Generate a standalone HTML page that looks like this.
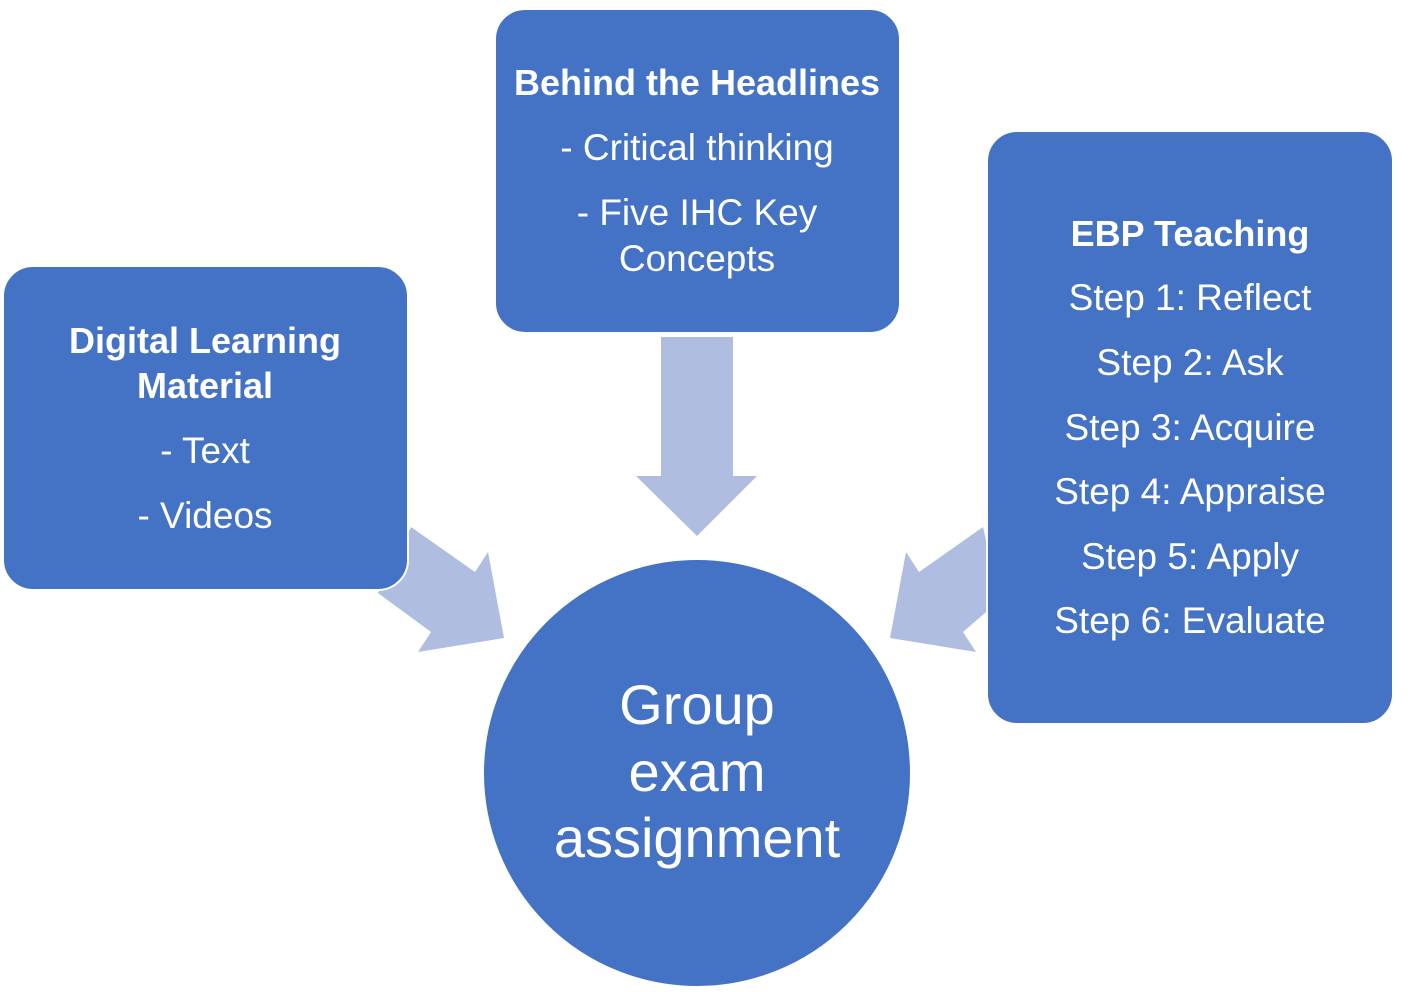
<!DOCTYPE html>
<html><head><meta charset="utf-8"><style>
html,body{margin:0;padding:0;background:#fff;}
svg{display:block;}
text{font-family:"Liberation Sans",sans-serif;fill:#fff;text-anchor:middle;}
.b{font-weight:bold;font-size:36px;}
.r{font-size:37px;}
.c{font-size:56px;}
</style></head><body>
<svg width="1417" height="992" viewBox="0 0 1417 992">
<g fill="#AFBDE0">
<polygon points="661,337 733,337 733,476 757,476 697,536 636,476 661,476"/>
<polygon points="411,527 475,572 488,552 504,638 418,652 431,632 378,593"/>
<polygon points="983,527 919,572 906,552 890,638 976,652 963,632 1000,600"/>
</g>
<g fill="#4472C4" stroke="#fff" stroke-width="2">
<rect x="3" y="266" width="405" height="324" rx="30"/>
<rect x="495" y="9" width="405" height="324" rx="30"/>
<rect x="987" y="131" width="406" height="593" rx="30"/>
<circle cx="697" cy="773" r="214"/>
</g>
<text class="b" x="205" y="353">Digital Learning</text>
<text class="b" x="205" y="398">Material</text>
<text class="r" x="205" y="463">- Text</text>
<text class="r" x="205" y="528">- Videos</text>
<text class="b" x="697" y="95">Behind the Headlines</text>
<text class="r" x="697" y="160">- Critical thinking</text>
<text class="r" x="697" y="225">- Five IHC Key</text>
<text class="r" x="697" y="271">Concepts</text>
<text class="b" x="1190" y="246">EBP Teaching</text>
<text class="r" x="1190" y="310">Step 1: Reflect</text>
<text class="r" x="1190" y="375">Step 2: Ask</text>
<text class="r" x="1190" y="440">Step 3: Acquire</text>
<text class="r" x="1190" y="504">Step 4: Appraise</text>
<text class="r" x="1190" y="569">Step 5: Apply</text>
<text class="r" x="1190" y="633">Step 6: Evaluate</text>
<text class="c" x="697" y="724">Group</text>
<text class="c" x="697" y="791">exam</text>
<text class="c" x="697" y="857">assignment</text>
</svg>
</body></html>
